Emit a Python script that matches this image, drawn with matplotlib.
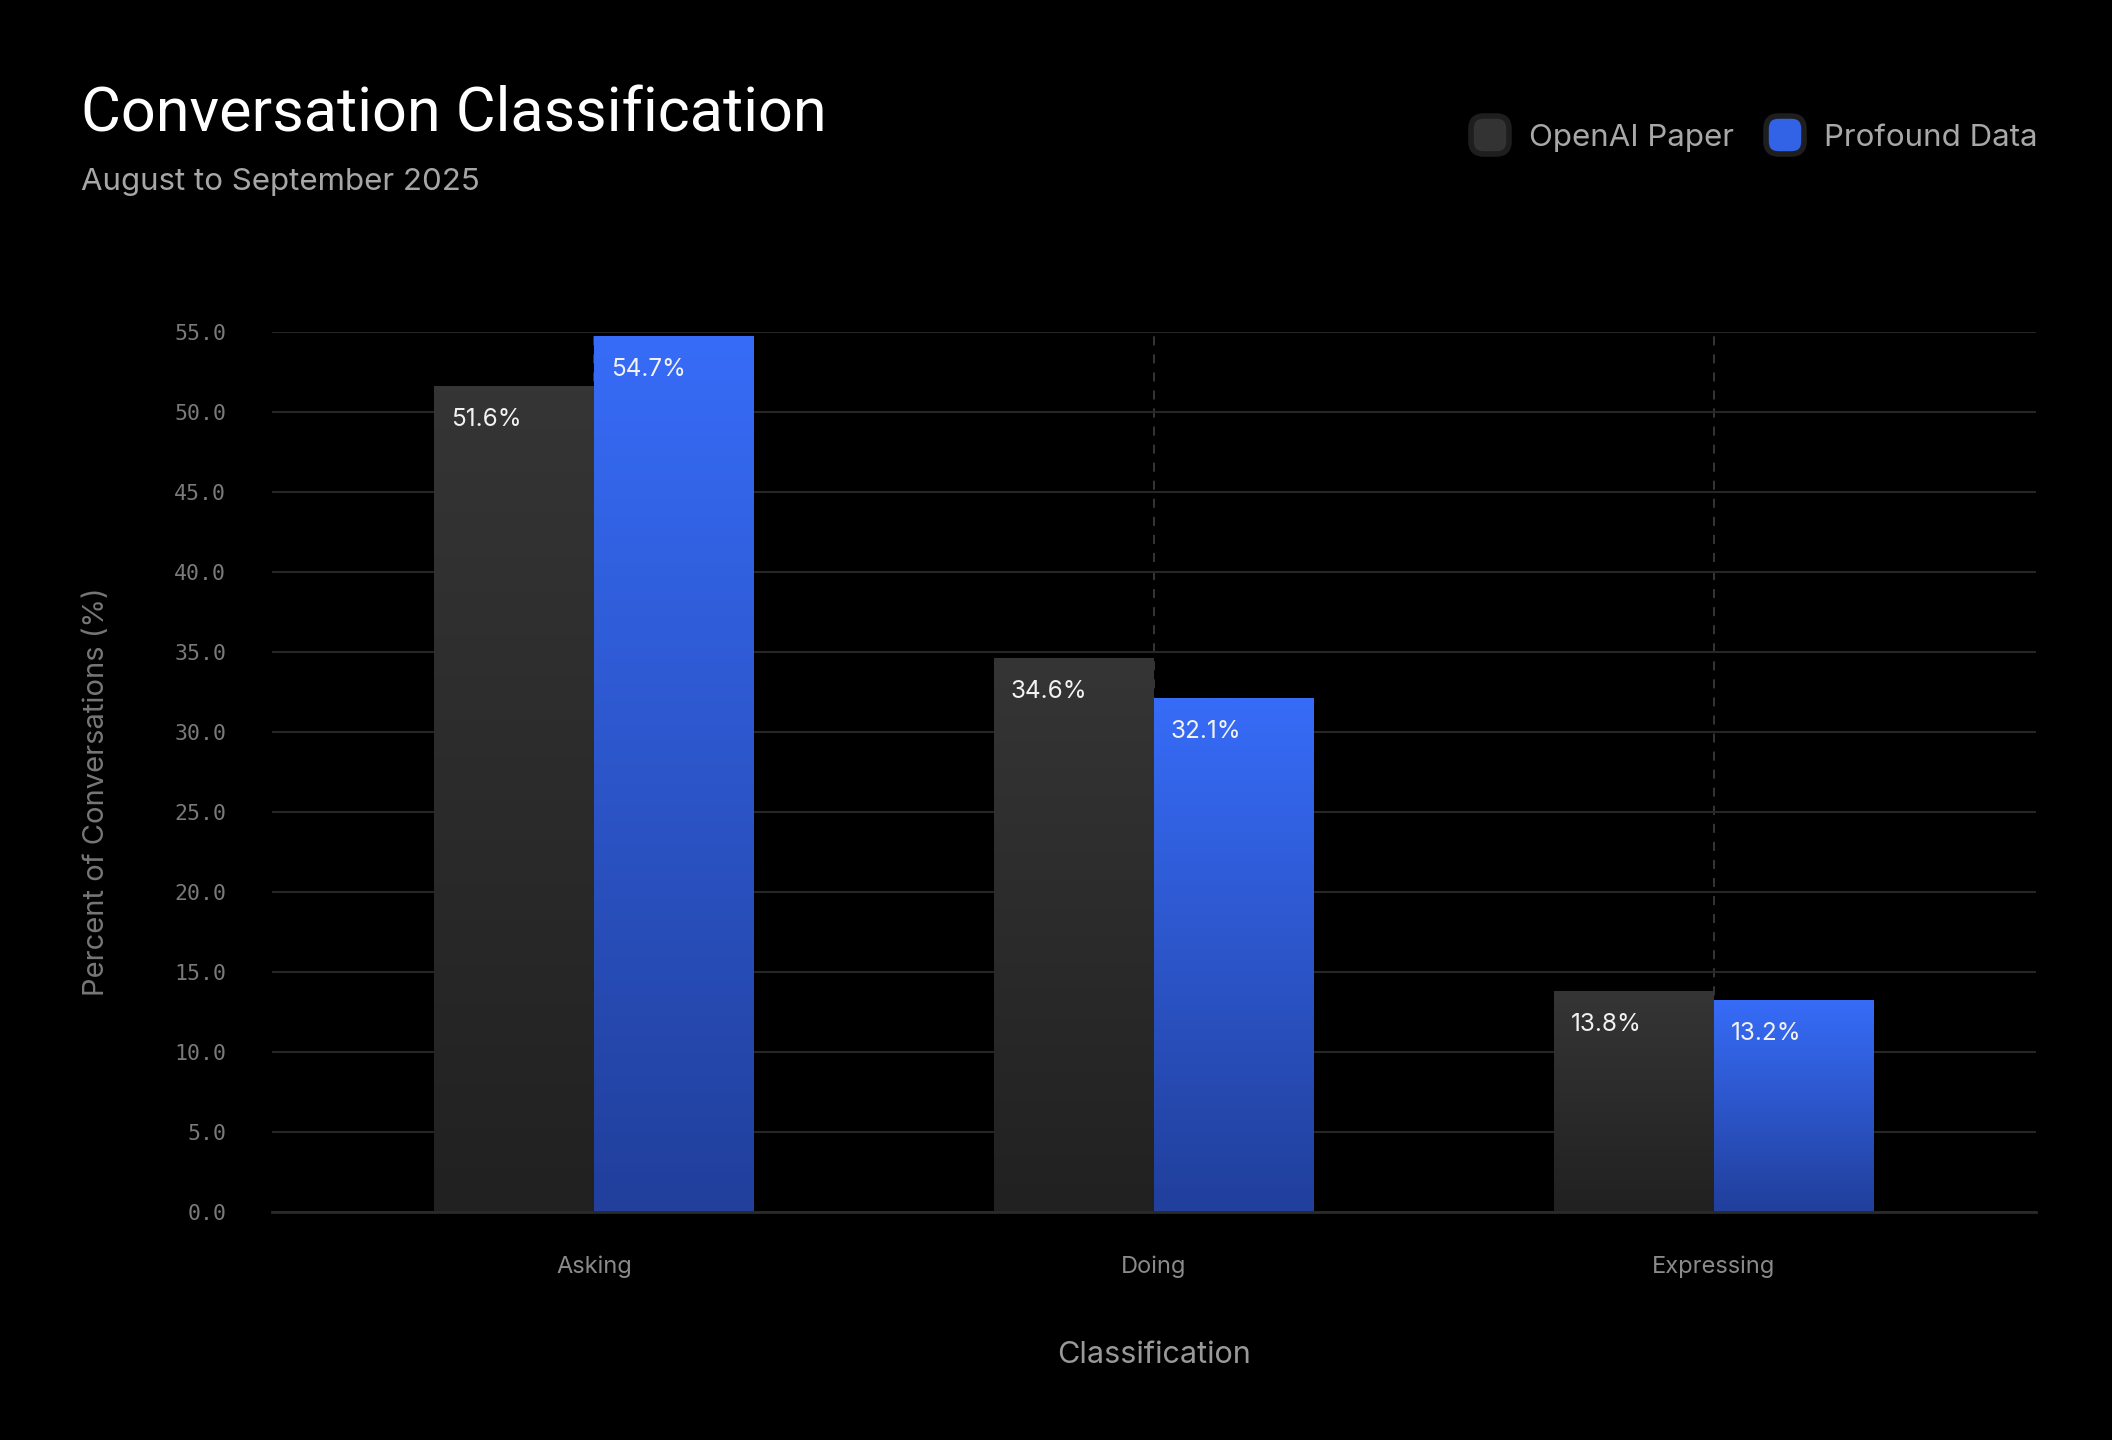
import numpy as np
import matplotlib
matplotlib.use("Agg")
import matplotlib.pyplot as plt
from matplotlib.colors import LinearSegmentedColormap
from matplotlib.patches import FancyBboxPatch

# ---- data ----
categories = ["Asking", "Doing", "Expressing"]
series_names = ["OpenAI Paper", "Profound Data"]
openai_values = [51.6, 34.6, 13.8]
profound_values = [54.7, 32.1, 13.2]
yticks = [0, 5, 10, 15, 20, 25, 30, 35, 40, 45, 50, 55]

title = "Conversation Classification"
subtitle = "August to September 2025"
xlabel = "Classification"
ylabel = "Percent of Conversations (%)"

# ---- style ----
FONT = ["Inter", "DejaVu Sans"]
TFONT = ["Roboto", "DejaVu Sans"]
MONO = ["DejaVu Sans Mono"]
BG = "#000000"
gray_cmap = LinearSegmentedColormap.from_list("g", ["#212121", "#353535"])
blue_cmap = LinearSegmentedColormap.from_list("b", ["#213f9b", "#376cf8"])

W, H = 2112, 1440
fig = plt.figure(figsize=(W / 100, H / 100), dpi=100, facecolor=BG)
ax = fig.add_axes([272 / W, 1 - 1212 / H, (2036 - 272) / W, (1212 - 332) / H])
ax.set_facecolor(BG)

x = np.arange(len(categories))
bw = 0.2857
ax.set_xlim(-0.575, 2.575)
ax.set_ylim(0, 55)

grad = np.linspace(0, 1, 256).reshape(-1, 1)
for vals, cmap, offset in [(openai_values, gray_cmap, -bw / 2), (profound_values, blue_cmap, bw / 2)]:
    bars = ax.bar(x + offset, vals, width=bw, color="none", edgecolor="none", zorder=3)
    for b, v in zip(bars, vals):
        x0 = b.get_x()
        ax.imshow(grad, cmap=cmap, origin="lower", aspect="auto",
                  extent=[x0, x0 + bw, 0, v], zorder=3, interpolation="bilinear")
        ax.text(x0 + 0.03, v - 1.35, f"{v:.1f}%", color="#f2f2f2", fontsize=17.5,
                family=FONT, ha="left", va="top", zorder=5)

ax.set_xlim(-0.575, 2.575)
ax.set_ylim(0, 55)

# grid
ax.set_yticks(yticks)
ax.set_yticklabels([f"{t:.1f}" for t in yticks], family=MONO, fontsize=15.5, color="#7a7a7a")
ax.yaxis.grid(True, color="#262626", linewidth=1.5, zorder=1)
ax.set_xticks(x)
ax.set_xticklabels(categories, family=FONT, fontsize=17, color="#8a8a8a")
ax.xaxis.grid(True, color="#3a3a3a", linewidth=1.3, linestyle=(0, (5, 5)), zorder=1)
ax.set_axisbelow(True)
ax.tick_params(axis="both", length=0)
ax.tick_params(axis="y", pad=33)
ax.tick_params(axis="x", pad=31)
for s in ["top", "right", "left"]:
    ax.spines[s].set_visible(False)
ax.spines["bottom"].set_color("#2a2a2a")
ax.spines["bottom"].set_linewidth(2)
ax.spines["bottom"].set_zorder(4)

ax.set_xlabel(xlabel, family=FONT, fontsize=22, color="#999999", labelpad=46)
ax.set_ylabel(ylabel, family=FONT, fontsize=21, color="#777777")
ax.yaxis.set_label_coords(-(272 - 110) / (2036 - 272), (1212 - 792) / (1212 - 332))

# title
fig.text(81 / W, 1 - 131 / H, title, family=TFONT, fontsize=44,
         color="#ffffff", ha="left", va="baseline")
fig.text(81 / W, 1 - 190 / H, subtitle, family=FONT, fontsize=22.5, color="#a6a6a6",
         ha="left", va="baseline")

# legend
def legend_item(x_px, color, label):
    s = 38
    yc = 135
    box = FancyBboxPatch((x_px / W, 1 - (yc + s / 2) / H), s / W, s / H,
                         boxstyle="round,pad=0,rounding_size=0.006",
                         transform=fig.transFigure, facecolor=color,
                         edgecolor="#1e1e1e", linewidth=4, mutation_aspect=W / H)
    fig.patches.append(box)
    fig.text((x_px + s + 20) / W, 1 - yc / H, label, family=FONT, fontsize=22.5,
             color="#a8a8a8", ha="left", va="center_baseline")

legend_item(1471, "#333333", series_names[0])
legend_item(1766, "#3263e6", series_names[1])

fig.savefig("out.png", dpi=100, facecolor=BG)
